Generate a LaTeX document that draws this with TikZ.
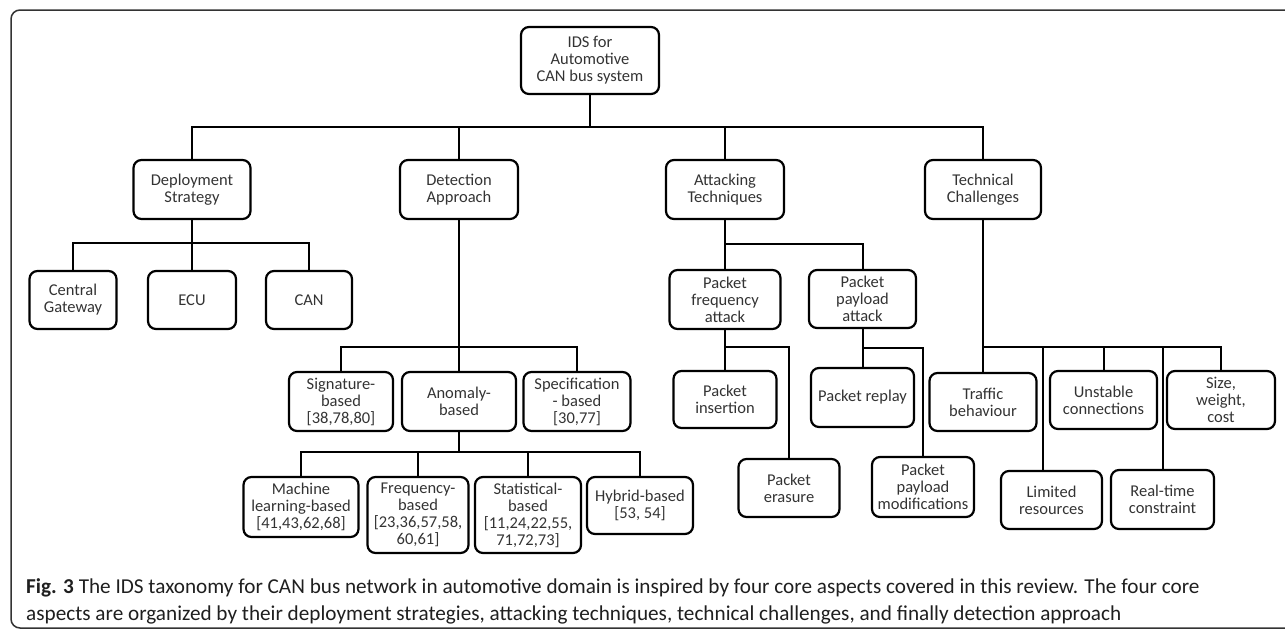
\documentclass[tikz,border=0pt]{standalone}
\usepackage{fontspec}
\setmainfont{Carlito}
\begin{document}
\begin{tikzpicture}[x=1pt,y=-1pt,
  box/.style 2 args={draw=black, line width=2.2pt, rounded corners=8pt,
    minimum width=#1pt, minimum height=#2pt, inner sep=0pt, align=center,
    text=black!80, font=\fontsize{16.5}{17}\selectfont},
  conn/.style={line width=2pt, draw=black},
  captext/.style={anchor=base west, inner sep=0pt, text=black!88,
    font=\fontsize{21.2}{24}\selectfont}]
\useasboundingbox (0,0) rectangle (1285,630);
\begin{scope}
  \clip (0,0) rectangle (1285,630);
  \draw[line width=1.5pt, black!80, rounded corners=9pt] (11,10) rectangle (1310,628);
\end{scope}

% level 0 and 1
\node[box={138}{67}] (root) at (590,60.5) {IDS for\\Automotive\\CAN bus system};
\node[box={117}{59}] (dep) at (192,189.5) {Deployment\\Strategy};
\node[box={118}{59}] (det) at (459,189.5) {Detection\\Approach};
\node[box={118}{59}] (att) at (725,189.5) {Attacking\\Techniques};
\node[box={116}{59}] (tech) at (983,189.5) {Technical\\Challenges};
\coordinate (b0) at (590,127);
\draw[conn] (root.south) -- (b0);
\draw[conn] (dep.north) |- (tech.north |- b0) -- (tech.north);
\draw[conn] (det.north) -- (det.north |- b0);
\draw[conn] (att.north) -- (att.north |- b0);

% deployment strategy
\node[box={87}{58}] (cg) at (73,300) {Central\\Gateway};
\node[box={88}{58}] (ecu) at (192,300) {ECU};
\node[box={86}{58}] (can) at (309,300) {CAN};
\coordinate (b1) at (192,243);
\draw[conn] (dep.south) -- (ecu.north);
\draw[conn] (cg.north) |- (b1) -| (can.north);

% detection approach
\node[box={104}{59}] (sig) at (341,401.5) {Signature-\\based\\{}[38,78,80]};
\node[box={114}{59}] (ano) at (459,401.5) {Anomaly-\\based};
\node[box={107}{59}] (spec) at (577,401.5) {Specification\\- based\\{}[30,77]};
\coordinate (b2) at (459,347);
\draw[conn] (det.south) -- (ano.north);
\draw[conn] (sig.north) |- (b2) -| (spec.north);

\node[box={115}{60}] (ml) at (301,507) {Machine\\learning-based\\{}[41,43,62,68]};
\node[box={101}{76}] (freq) at (418,515) {Frequency-\\based\\{}[23,36,57,58,\\60,61]};
\node[box={106}{76}] (stat) at (528,515) {Statistical-\\based\\{}[11,24,22,55,\\71,72,73]};
\node[box={106}{57}] (hyb) at (640,505.5) {Hybrid-based\\{}[53, 54]};
\coordinate (b3) at (459,452);
\draw[conn] (ano.south) -- (b3);
\draw[conn] (ml.north) |- (hyb.north |- b3) -- (hyb.north);
\draw[conn] (freq.north) -- (freq.north |- b3);
\draw[conn] (stat.north) -- (stat.north |- b3);

% attacking techniques
\node[box={111}{59}] (pfa) at (725,299.5) {Packet\\frequency\\attack};
\node[box={107}{58}] (ppa) at (862.5,299) {Packet\\payload\\attack};
\coordinate (b4) at (725,244);
\draw[conn] (att.south) -- (pfa.north);
\draw[conn] (b4) -| (ppa.north);

\node[box={103}{57}] (pins) at (725,399.5) {Packet\\insertion};
\node[box={101}{58}] (pera) at (789,488) {Packet\\erasure};
\coordinate (b5) at (725,347);
\draw[conn] (pfa.south) -- (pins.north);
\draw[conn] (b5) -| (pera.north);

\node[box={103}{59}] (prep) at (862.5,397.5) {Packet replay};
\node[box={102}{60}] (pmod) at (923,487) {Packet\\payload\\modifications};
\coordinate (b6) at (862.5,348);
\draw[conn] (ppa.south) -- (prep.north);
\draw[conn] (b6) -| (pmod.north);

% technical challenges
\node[box={107}{58}] (traf) at (983,402) {Traffic\\behaviour};
\node[box={107}{58}] (unst) at (1103.5,400) {Unstable\\connections};
\node[box={108}{58}] (size) at (1221,400) {Size,\\weight,\\cost};
\node[box={101}{58}] (lim) at (1051.5,500) {Limited\\resources};
\node[box={103}{59}] (rt) at (1162.5,499.5) {Real-time\\constraint};
\coordinate (b7) at (983,347);
\coordinate (limtop) at ([xshift=-8.5pt]lim.north);
\draw[conn] (tech.south) -- (traf.north);
\draw[conn] (b7) -| (size.north);
\draw[conn] (unst.north) -- (unst.north |- b7);
\draw[conn] (limtop) -- (limtop |- b7);
\draw[conn] (rt.north) -- (rt.north |- b7);

% caption
\node[captext] (cap1) at (26,593) {\textbf{Fig. 3} The IDS taxonomy for CAN bus network in automotive domain is inspired by four core aspects covered in this review. The four core};
\node[captext] (cap2) at (26,620) {aspects are organized by their deployment strategies, attacking techniques, technical challenges, and finally detection approach};
\end{tikzpicture}
\end{document}
